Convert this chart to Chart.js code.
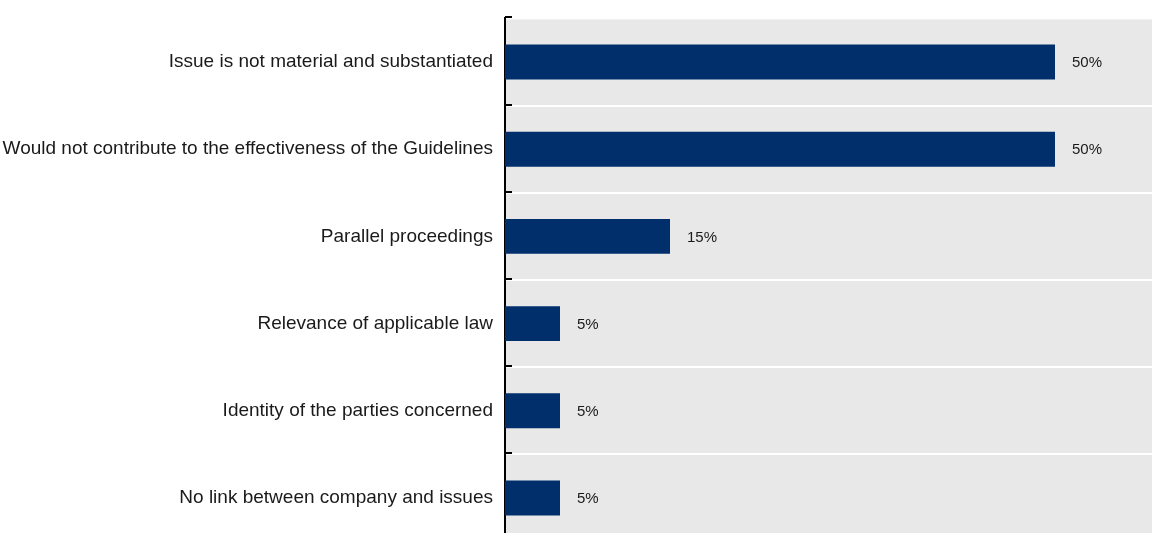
<!DOCTYPE html>
<html>
<head>
<meta charset="utf-8">
<script src="https://cdn.jsdelivr.net/npm/chart.js@4/dist/chart.umd.min.js"></script>
<style>
  html, body { margin: 0; padding: 0; background: #fff; overflow: hidden; }
  #wrap { width: 1165px; height: 570px; position: relative; top: -5px; }
</style>
</head>
<body>
<div id="wrap"><canvas id="myChart"></canvas></div>
<script>
var labels = [
  "Issue is not material and substantiated",
  "Would not contribute to the effectiveness of the Guidelines",
  "Parallel proceedings",
  "Relevance of applicable law",
  "Identity of the parties concerned",
  "No link between company and issues"
];
var shares = [50, 50, 15, 5, 5, 5];
var xMin = 0, xMax = 60;

var fontFam = "'Liberation Sans', Arial, sans-serif";

// grey plot background
var plotBg = {
  id: 'plotBg',
  beforeDraw: function(chart) {
    var a = chart.chartArea, c = chart.ctx;
    c.save();
    c.fillStyle = '#e8e8e8';
    c.fillRect(a.left, a.top + 1, a.right - a.left, a.bottom - a.top);
    c.restore();
  }
};

// short inward tick marks on the category axis + value labels
var extras = {
  id: 'extras',
  afterDraw: function(chart) {
    var c = chart.ctx, ys = chart.scales.y, a = chart.chartArea;
    c.save();
    c.strokeStyle = '#000';
    c.lineWidth = 2;
    for (var i = 0; i <= labels.length; i++) {
      var py = Math.round(ys.getPixelForValue(i - 0.5)) - 1;
      c.beginPath();
      c.moveTo(a.left, py);
      c.lineTo(a.left + 7, py);
      c.stroke();
    }
    c.fillStyle = '#1a1a1a';
    c.font = "15px " + fontFam;
    c.textBaseline = 'middle';
    c.textAlign = 'left';
    chart.getDatasetMeta(0).data.forEach(function(bar, i) {
      c.fillText(shares[i] + '%', bar.x + 17, bar.y + 1);
    });
    c.restore();
  }
};

var ctx = document.getElementById("myChart");
var myChart = new Chart(ctx, {
  type: 'bar',
  data: {
    labels: labels,
    datasets: [{
      data: shares,
      backgroundColor: '#002f6c',
      borderWidth: 0,
      categoryPercentage: 1,
      barPercentage: 0.4
    }]
  },
  options: {
    indexAxis: 'y',
    responsive: true,
    maintainAspectRatio: false,
    animation: false,
    layout: { padding: { top: 6, right: 0, bottom: 0, left: 0 } },
    plugins: { legend: { display: false }, tooltip: { enabled: false } },
    scales: {
      x: { display: false, min: xMin, max: xMax },
      y: {
        afterFit: function(s) { s.width = 505; },
        grid: { offset: true, color: '#fff', lineWidth: 2, drawTicks: false },
        border: { display: true, color: '#000', width: 2 },
        ticks: { color: '#1a1a1a', padding: 12, font: { family: fontFam, size: 19 } }
      }
    }
  },
  plugins: [plotBg, extras]
});
</script>
</body>
</html>
